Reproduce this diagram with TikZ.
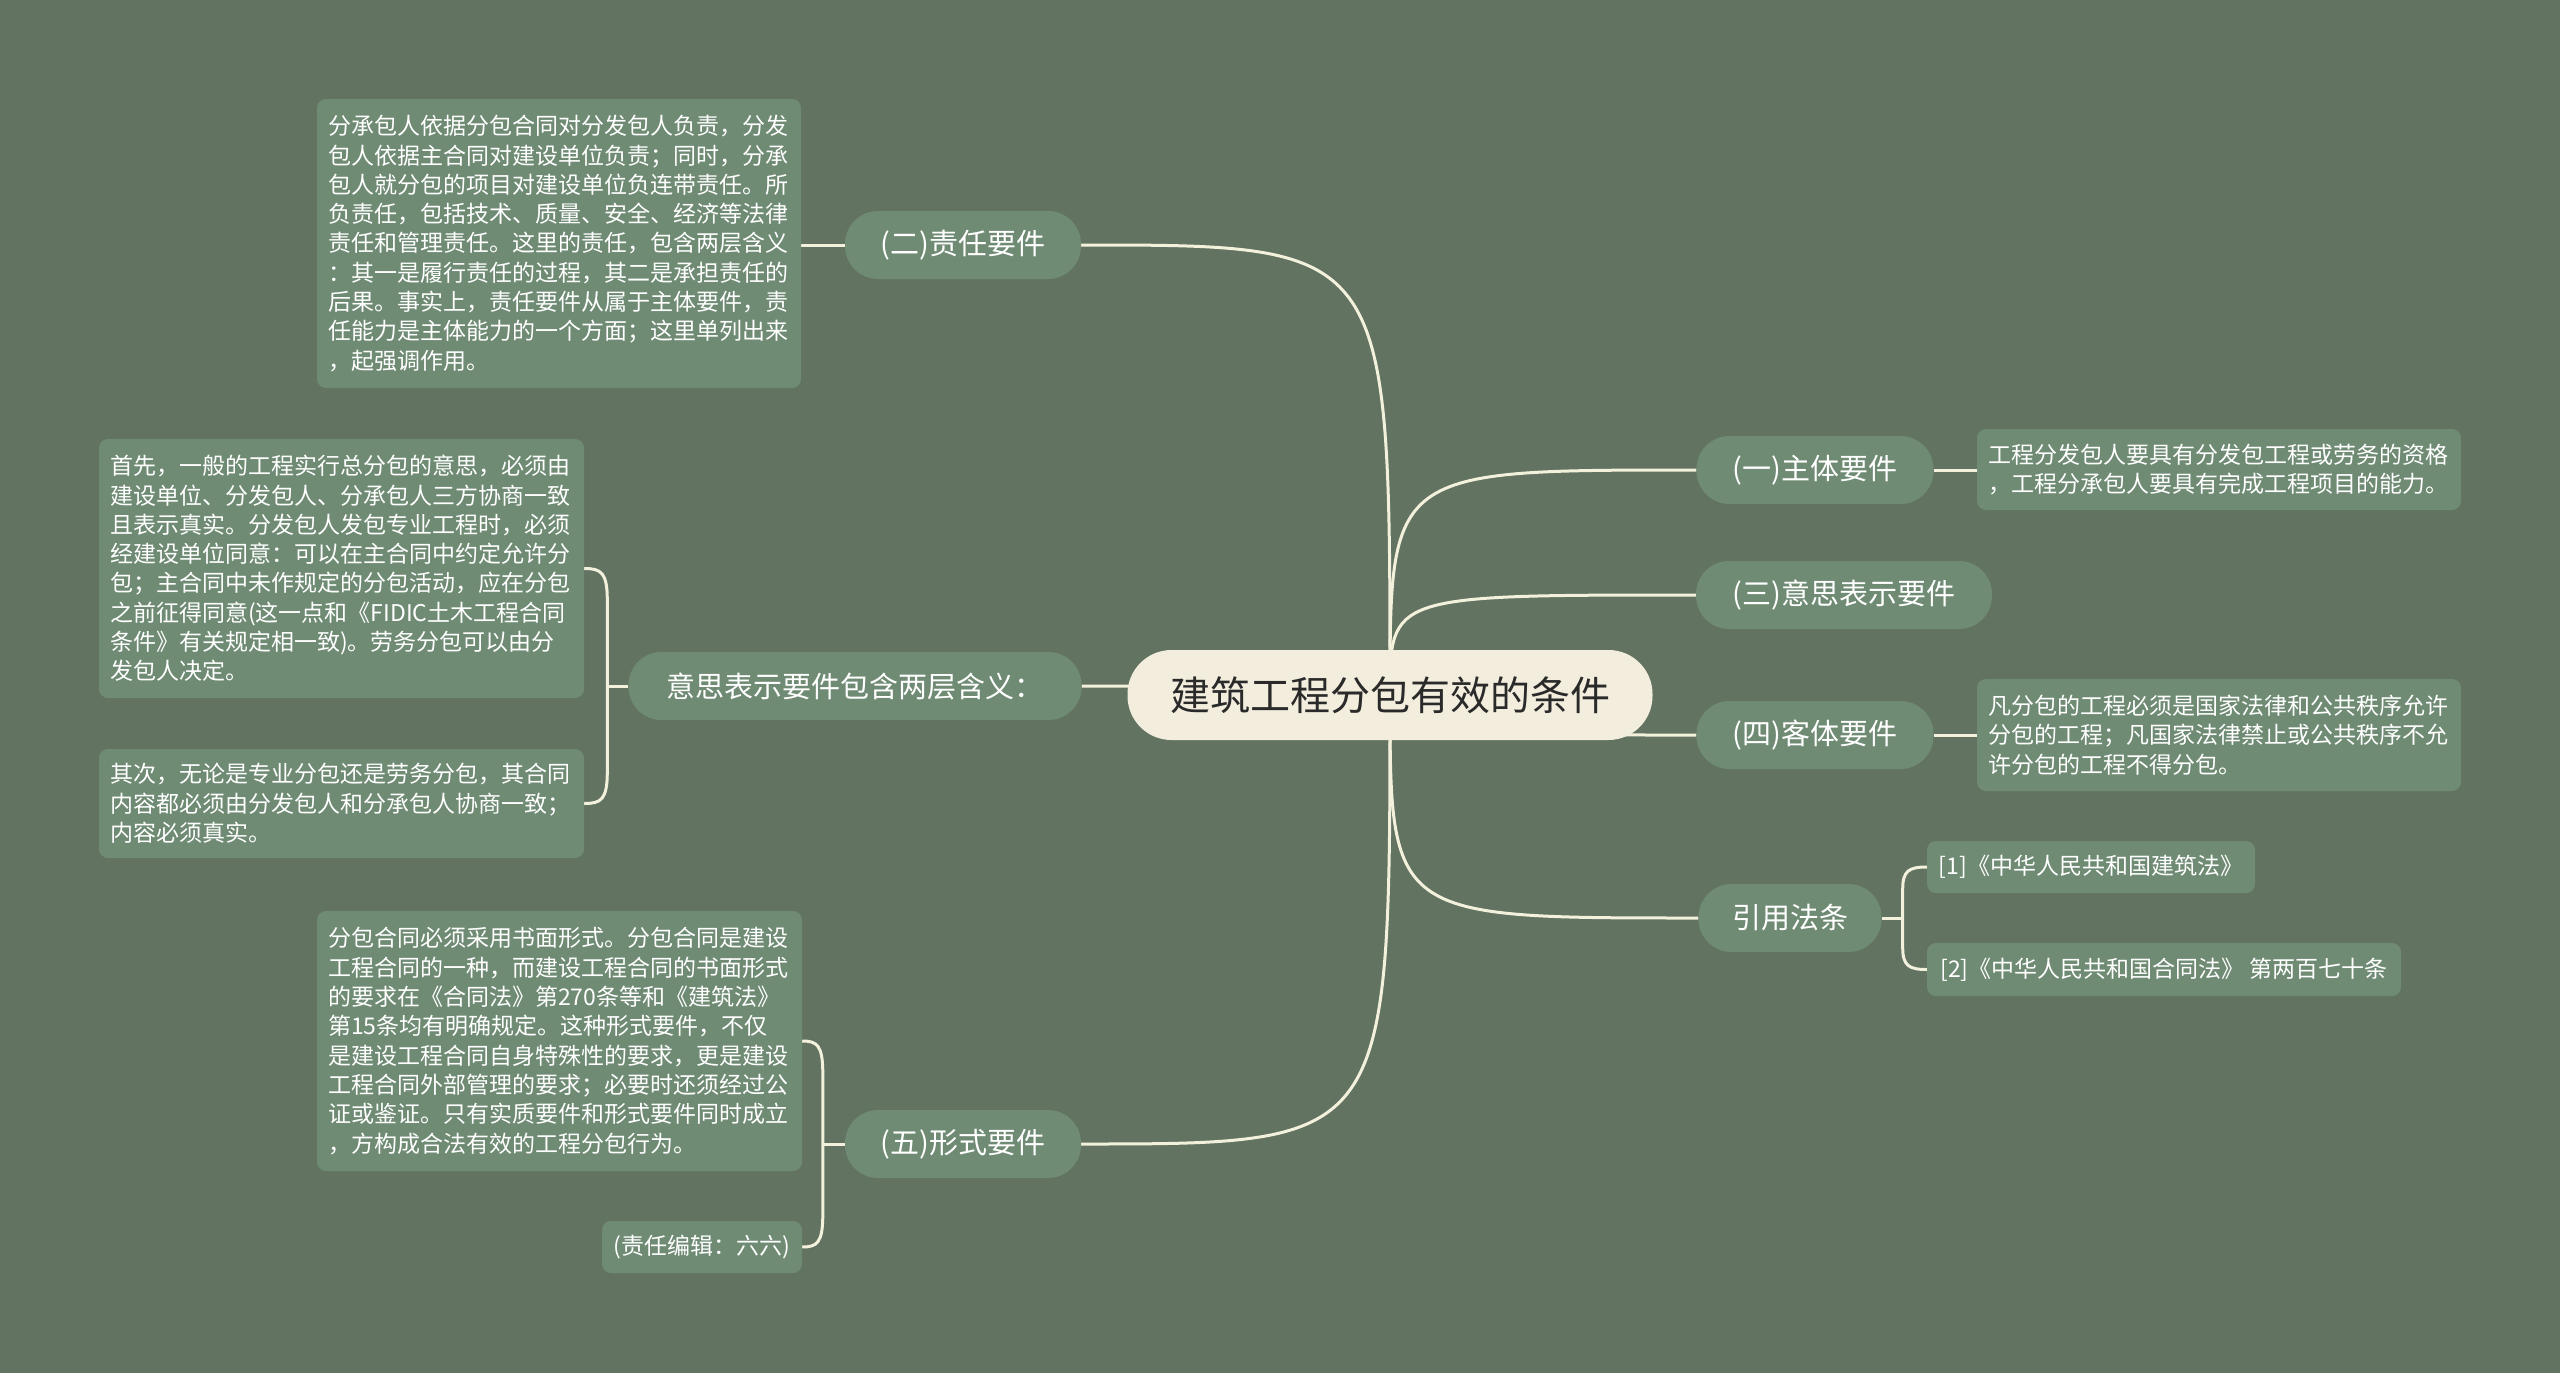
\documentclass[tikz,border=0pt]{standalone}
\usepackage{fontspec}
\setmainfont{Noto Sans CJK SC}
\usetikzlibrary{calc}
\definecolor{bgc}{HTML}{627362}
\definecolor{nodec}{HTML}{6F8B74}
\definecolor{centc}{HTML}{F2EDDC}
\definecolor{linec}{HTML}{F3F0DC}
\definecolor{txtc}{HTML}{FFFFFF}
\definecolor{ctxt}{HTML}{2A2A2A}
\pgfdeclarelayer{back}
\pgfdeclarelayer{lines}
\pgfsetlayers{back,lines,main}
\begin{document}
\begin{tikzpicture}[x=1pt,y=-1pt,
 conn/.style={draw=linec,line width=3pt},
 root/.style={fill=centc,text=ctxt,rounded corners=44pt,minimum width=525pt,minimum height=90pt,font=\fontsize{40pt}{48pt}\selectfont,inner sep=0pt},
 topic/.style={fill=nodec,text=txtc,rounded corners=33pt,minimum height=68pt,font=\fontsize{29pt}{35pt}\selectfont,inner sep=0pt},
 tbox/.style={fill=nodec,text=txtc,rounded corners=9pt,font=\fontsize{23pt}{29.3pt}\selectfont,inner sep=0pt,align=left},
 lbox/.style={fill=nodec,text=txtc,rounded corners=9pt,font=\fontsize{23pt}{29.3pt}\selectfont,inner sep=0pt},
]
\useasboundingbox (0,0) rectangle (2560,1373);
\begin{pgfonlayer}{back}
\fill[bgc] (0,0) rectangle (2560,1373);
\end{pgfonlayer}

% root and topics
\node[root] (c) at (1390,695) {建筑工程分包有效的条件};
\node[topic,minimum width=236pt] (n2) at (963,245) {(二)责任要件};
\node[topic,minimum width=453pt] (nyi) at (855,686) {意思表示要件包含两层含义：};
\node[topic,minimum width=236pt] (n5) at (963,1144) {(五)形式要件};
\node[topic,minimum width=237pt] (n1) at (1815,470) {(一)主体要件};
\node[topic,minimum width=296pt] (n3) at (1844,595) {(三)意思表示要件};
\node[topic,minimum width=237pt] (n4) at (1815,735) {(四)客体要件};
\node[topic,minimum width=183pt] (nr) at (1790,918) {引用法条};

% detail boxes
\node[tbox,minimum width=484pt,minimum height=289pt,text width=462pt] (t2) at (559,243.5) {分承包人依据分包合同对分发包人负责，分发\\
包人依据主合同对建设单位负责；同时，分承\\
包人就分包的项目对建设单位负连带责任。所\\
负责任，包括技术、质量、安全、经济等法律\\
责任和管理责任。这里的责任，包含两层含义\\
：其一是履行责任的过程，其二是承担责任的\\
后果。事实上，责任要件从属于主体要件，责\\
任能力是主体能力的一个方面；这里单列出来\\
，起强调作用。};

\node[tbox,minimum width=485pt,minimum height=259pt,text width=463pt] (tA) at (341.5,568.5) {首先，一般的工程实行总分包的意思，必须由\\
建设单位、分发包人、分承包人三方协商一致\\
且表示真实。分发包人发包专业工程时，必须\\
经建设单位同意：可以在主合同中约定允许分\\
包；主合同中未作规定的分包活动，应在分包\\
之前征得同意(这一点和《FIDIC土木工程合同\\
条件》有关规定相一致)。劳务分包可以由分\\
发包人决定。};

\node[tbox,minimum width=485pt,minimum height=109pt,text width=463pt] (tB) at (341.5,803.5) {其次，无论是专业分包还是劳务分包，其合同\\
内容都必须由分发包人和分承包人协商一致；\\
内容必须真实。};

\node[tbox,minimum width=485pt,minimum height=260pt,text width=463pt] (t5) at (559.5,1041) {分包合同必须采用书面形式。分包合同是建设\\
工程合同的一种，而建设工程合同的书面形式\\
的要求在《合同法》第270条等和《建筑法》\\
第15条均有明确规定。这种形式要件，不仅\\
是建设工程合同自身特殊性的要求，更是建设\\
工程合同外部管理的要求；必要时还须经过公\\
证或鉴证。只有实质要件和形式要件同时成立\\
，方构成合法有效的工程分包行为。};

\node[lbox,minimum width=200pt,minimum height=52pt] (t5b) at (702,1247) {(责任编辑：六六)};

\node[tbox,minimum width=484pt,minimum height=81pt,text width=462pt] (t1) at (2219,469.5) {工程分发包人要具有分发包工程或劳务的资格\\
，工程分承包人要具有完成工程项目的能力。};

\node[tbox,minimum width=484pt,minimum height=112pt,text width=462pt] (t4) at (2219,735) {凡分包的工程必须是国家法律和公共秩序允许\\
分包的工程；凡国家法律禁止或公共秩序不允\\
许分包的工程不得分包。};

\node[lbox,minimum width=328pt,minimum height=52pt] (r1) at (2091,867) {[1]《中华人民共和国建筑法》};
\node[lbox,minimum width=474pt,minimum height=53pt] (r2) at (2164,969.5) {[2]《中华人民共和国合同法》 第两百七十条};

\coordinate (jA) at ([xshift=-21pt]nyi.west);
\coordinate (j5) at ([xshift=-22pt]n5.west);
\coordinate (jR) at ([xshift=21pt]nr.east);

\begin{pgfonlayer}{lines}
% root to topics
\draw[conn] (c.center) .. controls (c.center |- n2.east) .. (n2.east);
\draw[conn] (c.center) .. controls (c.center |- nyi.east) .. (nyi.east);
\draw[conn] (c.center) .. controls (c.center |- n5.east) .. (n5.east);
\draw[conn] (c.center) .. controls (c.center |- n1.west) .. (n1.west);
\draw[conn] (c.center) .. controls (c.center |- n3.west) .. (n3.west);
\draw[conn] (c.center) .. controls (c.center |- n4.west) .. (n4.west);
\draw[conn] (c.center) .. controls (c.center |- nr.west) .. (nr.west);
% topic to details
\draw[conn] (n2.west) -- (n2.west -| t2.east);
\draw[conn] (n1.east) -- (n1.east -| t1.west);
\draw[conn] (n4.east) -- (n4.east -| t4.west);
% braces
\draw[conn] (nyi.west) -- (jA);
\draw[conn] (jA) -- ($(jA |- tA.east)+(0,32)$) .. controls ($(jA |- tA.east)+(0,4)$) and ($(jA |- tA.east)+(-6,0)$) .. (tA.east);
\draw[conn] (jA) -- ($(jA |- tB.east)+(0,-32)$) .. controls ($(jA |- tB.east)+(0,-4)$) and ($(jA |- tB.east)+(-6,0)$) .. (tB.east);
\draw[conn] (n5.west) -- (j5);
\draw[conn] (j5) -- ($(j5 |- t5.east)+(0,32)$) .. controls ($(j5 |- t5.east)+(0,4)$) and ($(j5 |- t5.east)+(-6,0)$) .. (t5.east);
\draw[conn] (j5) -- ($(j5 |- t5b.east)+(0,-32)$) .. controls ($(j5 |- t5b.east)+(0,-4)$) and ($(j5 |- t5b.east)+(-6,0)$) .. (t5b.east);
\draw[conn] (nr.east) -- (jR);
\draw[conn] (jR) -- ($(jR |- r1.west)+(0,22)$) .. controls ($(jR |- r1.west)+(0,4)$) and ($(jR |- r1.west)+(6,0)$) .. (r1.west);
\draw[conn] (jR) -- ($(jR |- r2.west)+(0,-22)$) .. controls ($(jR |- r2.west)+(0,-4)$) and ($(jR |- r2.west)+(6,0)$) .. (r2.west);
\end{pgfonlayer}
\end{tikzpicture}
\end{document}
